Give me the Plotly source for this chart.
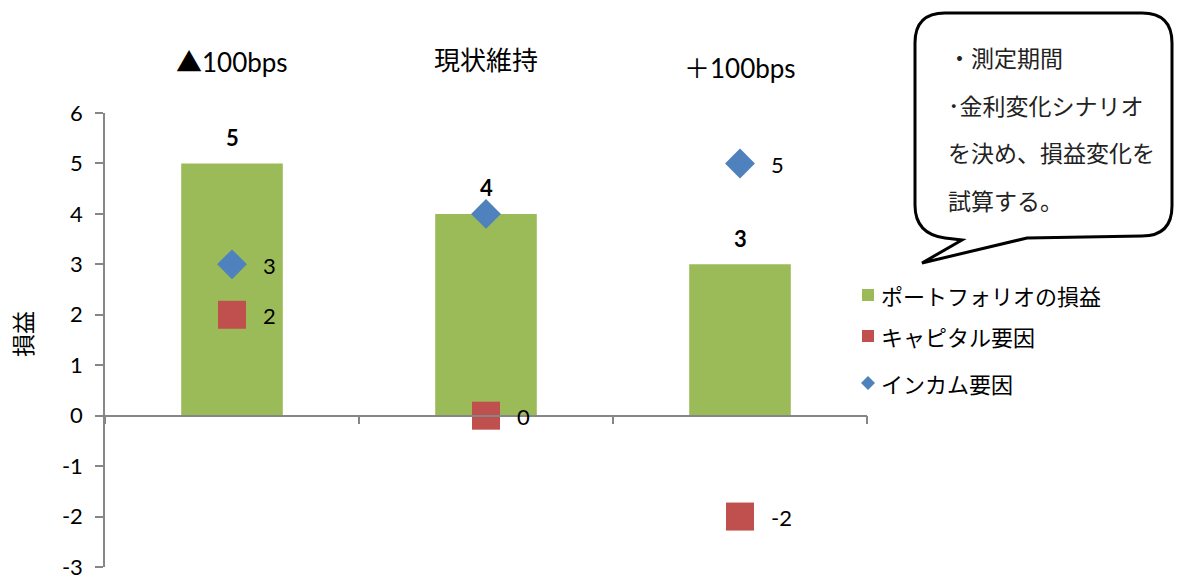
import plotly.graph_objects as go

# Scenario categories and series values
scenarios = ["▲100bps", "現状維持", "＋100bps"]
portfolio_pl = [5, 4, 3]
capital_factor = [2, 0, -2]
income_factor = [3, 4, 5]
# which marker values carry a text label
capital_labeled = [True, True, True]
income_labeled = [True, False, True]

y_tick_values = [-3, -2, -1, 0, 1, 2, 3, 4, 5, 6]
y_tick_labels = ["-3", "-2", "-1", "0", "1", "2", "3", "4", "5", "6"]

series_names = ["ポートフォリオの損益", "キャピタル要因", "インカム要因"]
axis_title = "損益"
note_lines = ["・測定期間", "･金利変化シナリオ", "を決め、損益変化を", "試算する。"]

GREEN = "#9BBB59"
RED = "#C0504D"
BLUE = "#4F81BD"
AXIS = "#868686"
FONT = "Lato, 'Noto Sans CJK JP', sans-serif"
JP_FONT = "'Noto Sans CJK JP', sans-serif"

# Plot area in page pixels
W_PAGE, H_PAGE = 1177, 576
LEFT, RIGHT, TOP, BOTTOM = 105, 867, 113, 567
PW, PH = RIGHT - LEFT, BOTTOM - TOP


def to_paper(x, y):
    """Convert page pixel position to paper coordinates."""
    return (x - LEFT) / PW, (BOTTOM - y) / PH


fig = go.Figure()

fig.add_trace(go.Bar(
    x=scenarios, y=portfolio_pl, name=series_names[0],
    marker=dict(color=GREEN, line=dict(width=0)),
    width=0.4, showlegend=False,
))
fig.add_trace(go.Scatter(
    x=scenarios, y=capital_factor, name=series_names[1], mode="markers",
    marker=dict(symbol="square", size=28, color=RED), showlegend=False,
))
fig.add_trace(go.Scatter(
    x=scenarios, y=income_factor, name=series_names[2], mode="markers",
    marker=dict(symbol="diamond", size=23, color=BLUE), showlegend=False,
))

annotations = []
# Bar value labels (bold, above bars)
for cat, v in zip(scenarios, portfolio_pl):
    annotations.append(dict(
        x=cat, y=v, xref="x", yref="y", text=f"<b>{v}</b>", showarrow=False,
        yanchor="middle", yshift=26, font=dict(family=FONT, size=22, color="#000000"),
    ))
# Marker value labels (to the right of markers)
for series, flags in ((capital_factor, capital_labeled), (income_factor, income_labeled)):
    for cat, v, show in zip(scenarios, series, flags):
        if not show:
            continue
        annotations.append(dict(
            x=cat, y=v, xref="x", yref="y", text=str(v), showarrow=False,
            xanchor="left", yanchor="middle", xshift=29, yshift=-1,
            font=dict(family=FONT, size=22, color="#000000"),
        ))
# Scenario headings above the plot
for cat, shift in zip(scenarios, [51, 53, 45]):
    annotations.append(dict(
        x=cat, y=1, xref="x", yref="paper", text=cat, showarrow=False,
        yanchor="middle", yshift=shift,
        font=dict(family=FONT, size=26, color="#000000"),
    ))
# Y axis title
tx, ty = to_paper(22, 334)
annotations.append(dict(
    x=tx, y=ty, xref="paper", yref="paper", text=axis_title, showarrow=False,
    textangle=-90, xanchor="center", yanchor="middle",
    font=dict(family=JP_FONT, size=23, color="#000000"),
))
# Callout text
for line, py in zip(note_lines, [57, 105, 152, 200]):
    nx, ny = to_paper(946, py)
    annotations.append(dict(
        x=nx, y=ny, xref="paper", yref="paper", text=line, showarrow=False,
        xanchor="left", yanchor="middle",
        font=dict(family=JP_FONT, size=23, color="#222222"),
    ))

shapes = []

# Legend: swatches and names
legend_rows = [295, 336, 383]
legend_kinds = ["square", "square", "diamond"]
legend_colors = [GREEN, RED, BLUE]
for name, row, kind, color in zip(series_names, legend_rows, legend_kinds, legend_colors):
    if kind == "square":
        x0, y0 = to_paper(862, row + 6)
        x1, y1 = to_paper(874, row - 6)
        shapes.append(dict(type="rect", xref="paper", yref="paper",
                           x0=x0, y0=y0, x1=x1, y1=y1,
                           fillcolor=color, line=dict(width=0)))
    else:
        pts = [(868, row - 7), (875, row), (868, row + 7), (861, row)]
        d = "M " + " L ".join("{:.5f},{:.5f}".format(*to_paper(*p)) for p in pts) + " Z"
        shapes.append(dict(type="path", path=d, xref="paper", yref="paper",
                           fillcolor=color, line=dict(width=0)))
    lx, ly = to_paper(879, row)
    annotations.append(dict(
        x=lx, y=ly, xref="paper", yref="paper", text=name, showarrow=False,
        xanchor="left", yanchor="middle",
        font=dict(family=JP_FONT, size=22, color="#000000"),
    ))

# Speech-bubble outline (page pixels -> paper)
bubble = [
    ("M", (962, 240)), ("L", (922, 263)), ("L", (1027, 238)), ("L", (1142, 236)),
    ("Q", (1172, 236), (1172, 206)), ("L", (1172, 43)),
    ("Q", (1172, 13), (1142, 13)), ("L", (945, 13)),
    ("Q", (915, 13), (915, 43)), ("L", (915, 205)),
    ("Q", (915, 234), (945, 238)),
]
parts = []
for cmd, *pts in bubble:
    coords = " ".join("{:.5f},{:.5f}".format(*to_paper(*p)) for p in pts)
    parts.append(f"{cmd} {coords}")
path = " ".join(parts) + " Z"
shapes.append(dict(
    type="path", path=path, xref="paper", yref="paper",
    line=dict(color="#000000", width=3), fillcolor="white", layer="above",
))

fig.update_layout(
    width=W_PAGE, height=H_PAGE,
    margin=dict(l=LEFT, r=W_PAGE - RIGHT, t=TOP, b=H_PAGE - BOTTOM, autoexpand=False),
    paper_bgcolor="white", plot_bgcolor="white",
    font=dict(family=FONT, size=22, color="#000000"),
    showlegend=False,
    xaxis=dict(
        type="category", range=[-0.5, 2.5], showticklabels=False,
        showline=True, linecolor=AXIS, linewidth=1.5,
        ticks="outside", tickson="boundaries", ticklen=8, tickcolor=AXIS, tickwidth=1.5,
        showgrid=False, zeroline=False, anchor="free", position=1 / 3,
    ),
    yaxis=dict(
        range=[-3, 6], tickmode="array", tickvals=y_tick_values, ticktext=y_tick_labels,
        showgrid=False, zeroline=False,
        showline=True, linecolor=AXIS, linewidth=1.5,
        ticks="outside", ticklen=8, tickcolor=AXIS, tickwidth=1.5,
        ticklabelstandoff=8, ticklabeloverflow="allow",
        tickfont=dict(family=FONT, size=22, color="#000000"),
    ),
    annotations=annotations,
    shapes=shapes,
)

fig.write_html("out.html")
